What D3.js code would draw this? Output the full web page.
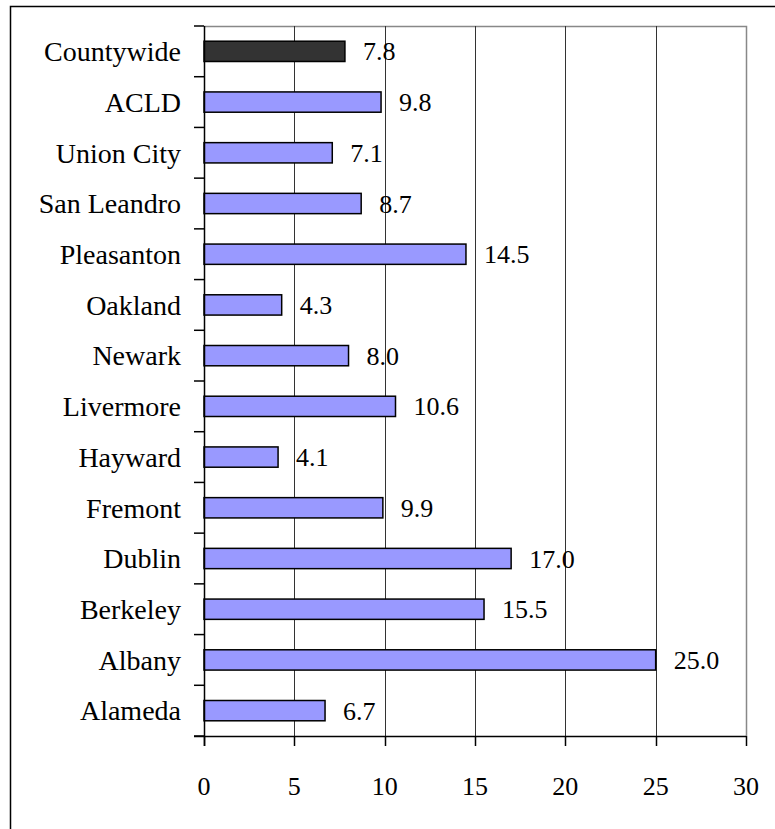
<!DOCTYPE html>
<html>
<head>
<meta charset="utf-8">
<script src="https://cdn.jsdelivr.net/npm/d3@7"></script>
<style>
  body { margin: 0; background: #fff; }
  text { font-family: "Liberation Serif", "DejaVu Serif", serif; fill: #000; }
</style>
</head>
<body>
<svg id="chart" width="775" height="829"></svg>
<script>
  // Chart data, top to bottom.
  var categories = [ 'Countywide', 'ACLD', 'Union City', 'San Leandro', 'Pleasanton',
                     'Oakland', 'Newark', 'Livermore', 'Hayward', 'Fremont',
                     'Dublin', 'Berkeley', 'Albany', 'Alameda' ];
  var values     = [ 7.8, 9.8, 7.1, 8.7, 14.5, 4.3, 8.0, 10.6, 4.1, 9.9, 17.0, 15.5, 25.0, 6.7 ];
  var xTicks     = [ 0, 5, 10, 15, 20, 25, 30 ];

  var highlight = 'Countywide';
  var labelSize = '28px',
      numSize   = '26px';

  var svg = d3.select( '#chart' );

  // Plot area edges ('top' is taken by window.top).
  var pLeft = 204, pRight = 746, pTop = 26, pBottom = 736;

  var x = d3.scaleLinear().domain( [ 0, 30 ] ).range( [ pLeft, pRight ] );
  var y = d3.scaleBand().domain( categories ).range( [ pTop, pBottom ] ).paddingInner( 0.6 ).paddingOuter( 0.3 );
  var yEdges = d3.scaleBand().domain( categories ).range( [ pTop, pBottom ] );

  // Outer frame (runs past the window on right/bottom).
  svg.append( 'rect' )
    .attr( 'x', 10.5 ).attr( 'y', 6.5 )
    .attr( 'width', 900 ).attr( 'height', 900 )
    .style( 'fill', 'none' ).style( 'stroke', '#000' ).style( 'stroke-width', 1.5 );

  // Plot area border (top + right, gray).
  svg.append( 'path' )
    .attr( 'd', 'M' + pLeft + ',' + ( pTop + 0.5 ) + 'H' + ( pRight + 0.5 ) + 'V' + pBottom )
    .style( 'fill', 'none' ).style( 'stroke', '#888' ).style( 'stroke-width', 1.5 );

  // Vertical gridlines.
  svg.append( 'g' )
    .selectAll( 'line' )
    .data( xTicks.filter( function( d ) { return d > 0 && d < 30; } ) )
    .enter().append( 'line' )
      .attr( 'x1', function( d ) { return Math.round( x( d ) ) + 0.5; } )
      .attr( 'x2', function( d ) { return Math.round( x( d ) ) + 0.5; } )
      .attr( 'y1', pTop ).attr( 'y2', pBottom )
      .style( 'stroke', '#333' ).style( 'stroke-width', 1 );

  // Bars.
  svg.append( 'g' )
    .selectAll( 'rect' )
    .data( categories )
    .enter().append( 'rect' )
      .attr( 'x', x( 0 ) )
      .attr( 'y', function( d ) { return y( d ); } )
      .attr( 'width', function( d, i ) { return x( values[ i ] ) - x( 0 ); } )
      .attr( 'height', y.bandwidth() )
      .style( 'fill', function( d ) { return d === highlight ? '#333333' : '#9999ff'; } )
      .style( 'stroke', '#000' )
      .style( 'stroke-width', 1.5 );

  // Value labels.
  svg.append( 'g' )
    .selectAll( 'text' )
    .data( categories )
    .enter().append( 'text' )
      .attr( 'x', function( d, i ) { return x( values[ i ] ) + 18; } )
      .attr( 'y', function( d ) { return y( d ) + y.bandwidth() / 2; } )
      .attr( 'dy', '0.35em' )
      .style( 'font-size', numSize )
      .text( function( d, i ) { return values[ i ].toFixed( 1 ); } );

  // Y axis.
  var yAxis = svg.append( 'g' );
  yAxis.append( 'line' )
    .attr( 'x1', pLeft + 0.5 ).attr( 'x2', pLeft + 0.5 )
    .attr( 'y1', pTop ).attr( 'y2', pBottom + 10 )
    .style( 'stroke', '#000' ).style( 'stroke-width', 1.5 );
  yAxis.selectAll( 'line.tick' )
    .data( categories.concat( [ null ] ) )
    .enter().append( 'line' )
      .attr( 'class', 'tick' )
      .attr( 'x1', pLeft - 10 ).attr( 'x2', pLeft )
      .attr( 'y1', function( d ) { return d === null ? pBottom : yEdges( d ); } )
      .attr( 'y2', function( d ) { return d === null ? pBottom : yEdges( d ); } )
      .style( 'stroke', '#000' ).style( 'stroke-width', 1.5 );
  yAxis.selectAll( 'text' )
    .data( categories )
    .enter().append( 'text' )
      .attr( 'x', pLeft - 23 )
      .attr( 'y', function( d ) { return y( d ) + y.bandwidth() / 2; } )
      .attr( 'dy', '0.35em' )
      .style( 'text-anchor', 'end' )
      .style( 'font-size', labelSize )
      .text( function( d ) { return d; } );

  // X axis.
  var xAxis = svg.append( 'g' );
  xAxis.append( 'line' )
    .attr( 'x1', pLeft - 10 ).attr( 'x2', pRight )
    .attr( 'y1', pBottom + 0.5 ).attr( 'y2', pBottom + 0.5 )
    .style( 'stroke', '#000' ).style( 'stroke-width', 1.5 );
  xAxis.selectAll( 'line.tick' )
    .data( xTicks )
    .enter().append( 'line' )
      .attr( 'class', 'tick' )
      .attr( 'x1', function( d ) { return Math.round( x( d ) ) + 0.5; } )
      .attr( 'x2', function( d ) { return Math.round( x( d ) ) + 0.5; } )
      .attr( 'y1', pBottom ).attr( 'y2', pBottom + 10 )
      .style( 'stroke', '#000' ).style( 'stroke-width', 1.5 );
  xAxis.selectAll( 'text' )
    .data( xTicks )
    .enter().append( 'text' )
      .attr( 'x', function( d ) { return x( d ); } )
      .attr( 'y', 786 )
      .attr( 'dy', '0.35em' )
      .style( 'text-anchor', 'middle' )
      .style( 'font-size', numSize )
      .text( function( d ) { return d; } );
</script>
</body>
</html>
